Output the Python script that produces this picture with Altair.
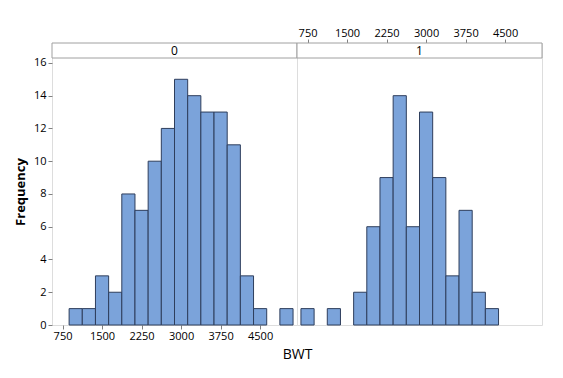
import altair as alt
import pandas as pd

# Bin midpoints (bin width 250) and counts per SMOKE group
midpoints = [750, 1000, 1250, 1500, 1750, 2000, 2250, 2500, 2750, 3000,
             3250, 3500, 3750, 4000, 4250, 4500, 4750, 5000]
counts_0 = [0, 1, 1, 3, 2, 8, 7, 10, 12, 15, 14, 13, 13, 11, 3, 1, 0, 1]
counts_1 = [1, 0, 1, 0, 2, 6, 9, 14, 6, 13, 9, 3, 7, 2, 1, 0, 0, 0]
groups = ["0", "1"]
bin_width = 250
x_ticks = [750, 1500, 2250, 3000, 3750, 4500]
y_ticks = [0, 2, 4, 6, 8, 10, 12, 14, 16]
x_domain = [550, 5200]
y_domain = [0, 16.3]

rows = []
for g, counts in zip(groups, [counts_0, counts_1]):
    for m, c in zip(midpoints, counts):
        rows.append({"SMOKE": g, "lo": m - bin_width / 2, "hi": m + bin_width / 2, "count": c})
df = pd.DataFrame(rows)
strip_df = pd.DataFrame({"SMOKE": groups})

W, H = 245, 282
STRIP = 15
FONT = "Open Sans"
GRAY = "#a0a0a0"
FILL = "#7ba3da"
EDGE = "#2e3e5c"


def panel(g, x_orient, show_y):
    x_axis = alt.Axis(
        orient=x_orient, values=x_ticks, format="d", domain=False, grid=False,
        tickColor="#808080", tickSize=4, labelFontSize=11, labelFont=FONT,
        labelColor="#000", labelPadding=1,
        title="BWT" if x_orient == "bottom" else None,
        titleX=W, titleAlign="center", titleFontSize=14, titleFontWeight="normal",
        titleFont=FONT, titlePadding=6, titleColor="#000",
    )
    if show_y:
        y_axis = alt.Axis(
            values=y_ticks, domain=False, grid=False, tickColor="#808080", tickSize=4,
            labelFontSize=11, labelFont=FONT, labelColor="#000", labelPadding=2,
            title="Frequency", titleFontSize=13, titleFont=FONT, titleFontWeight="bold",
            titlePadding=6, titleColor="#000",
        )
    else:
        y_axis = None
    bars = (
        alt.Chart(df)
        .transform_filter((alt.datum.SMOKE == g) & (alt.datum["count"] > 0))
        .mark_bar(fill=FILL, stroke=EDGE, strokeWidth=1)
        .encode(
            x=alt.X("lo:Q", scale=alt.Scale(domain=x_domain, nice=False, zero=False), axis=x_axis),
            x2="hi:Q",
            y=alt.Y("count:Q", scale=alt.Scale(domain=y_domain, range=[H, STRIP], nice=False), axis=y_axis),
            y2=alt.datum(0),
        )
    )
    strip = (
        alt.Chart(strip_df)
        .transform_filter(alt.datum.SMOKE == g)
        .mark_rect(fill="white", stroke=GRAY, strokeWidth=1)
        .encode(x=alt.value(0), x2=alt.value(W), y=alt.value(0), y2=alt.value(STRIP))
    )
    label = (
        alt.Chart(strip_df)
        .transform_filter(alt.datum.SMOKE == g)
        .mark_text(fontSize=12, font=FONT, color="#000", baseline="middle", align="center")
        .encode(x=alt.value(W / 2), y=alt.value(STRIP / 2), text="SMOKE:N")
    )
    return alt.layer(bars, strip, label).properties(width=W, height=H)


chart = (
    alt.hconcat(panel("0", "bottom", True), panel("1", "top", False), spacing=0, bounds="flush")
    .properties(padding={"left": 5, "top": 18, "right": 5, "bottom": 5})
    .configure_view(stroke=GRAY, strokeWidth=1)
    .configure(background="white")
)

chart.save("out.html", embed_options={"renderer": "svg", "actions": False})
